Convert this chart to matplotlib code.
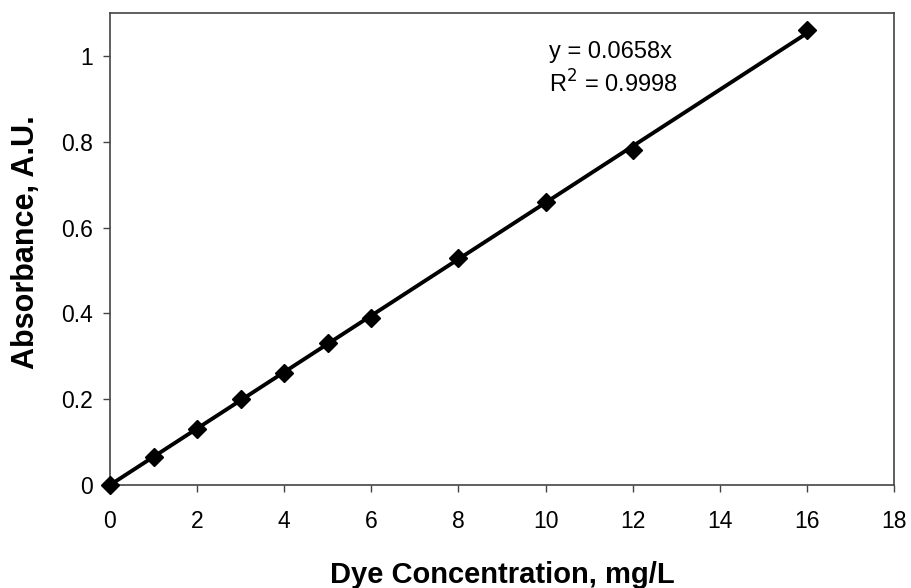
import matplotlib
matplotlib.use('Agg')
import matplotlib.pyplot as plt
import numpy as np

plt.rcParams['font.family'] = 'Liberation Sans'

# datos
conc = [0, 1, 2, 3, 4, 5, 6, 8, 10, 12, 16]
absorb = [0, 0.065, 0.13, 0.2, 0.26, 0.33, 0.39, 0.53, 0.66, 0.78, 1.06]
pendiente = 0.0658
x_ticks = [0, 2, 4, 6, 8, 10, 12, 14, 16, 18]
y_ticks = [0, 0.2, 0.4, 0.6, 0.8, 1]
y_tick_text = ['0', '0.2', '0.4', '0.6', '0.8', '1']

fig = plt.figure(figsize=(9.12, 5.88), dpi=100)
ax = fig.add_axes([110/912, 1 - 485/588, (894-110)/912, (485-13)/588])

xt = np.array([0, max(conc)])
ax.plot(xt, pendiente*xt, color='black', lw=2.8, zorder=2)
ax.plot(conc, absorb, 'D', color='black', ms=9, zorder=3, clip_on=False)

ax.set_xlim(0, 18)
ax.set_ylim(0, 1.1)
ax.set_xticks(x_ticks)
ax.set_yticks(y_ticks)
ax.set_yticklabels(y_tick_text)
ax.tick_params(labelsize=16.5, direction='out', length=5, width=1, color='#444444')
ax.tick_params(axis='x', pad=13)
ax.tick_params(axis='y', pad=7)
for s in ax.spines.values():
    s.set_color('#444444')
    s.set_linewidth(1.2)

ax.set_xlabel('Dye Concentration, mg/L', fontsize=21, fontweight='bold', labelpad=20)
ax.set_ylabel('Absorbance, A.U.', fontsize=22, fontweight='bold')
ax.yaxis.set_label_coords(-0.088, 0.515)

ax.text(10.08, 1.01, 'y = 0.0658x', fontsize=17, va='center', ha='left')
ax.text(10.08, 0.935, r'R$^2$ = 0.9998', fontsize=17, va='center', ha='left')

plt.savefig('out.png', dpi=100)
